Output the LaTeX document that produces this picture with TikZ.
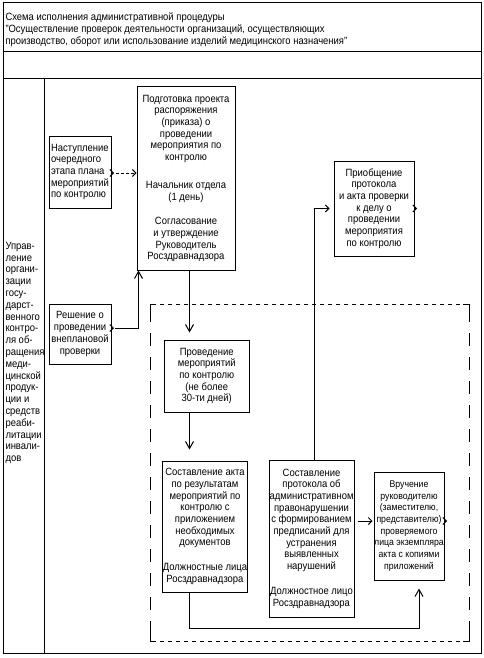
\documentclass[tikz,border=0pt]{standalone}
\usepackage{fontspec}
\setmainfont{Liberation Sans}[FakeStretch=0.9]
\usetikzlibrary{arrows.meta}
\begin{document}
\begin{tikzpicture}[x=1pt,y=-1pt,line width=1pt,
  font=\fontsize{10.5}{11.7}\selectfont,
  box/.style={draw, inner sep=0pt, align=center},
  harr/.style={-{Straight Barb[length=3.5pt,width=7pt]}},
  varr/.style={-{Straight Barb[length=7pt,width=8pt]}},
  hdash/.style={dash pattern=on 4pt off 4pt, dash phase=4pt},
  vdash/.style={dash pattern=on 13pt off 11pt, dash phase=13pt}]
\useasboundingbox (0,0) rectangle (484,658);
% frame
\draw (3,3) rectangle (481,653);
\draw (3,52) -- (481,52);
\draw (3,79) -- (481,79);
\draw (44,79) -- (44,653);
% header
\node[anchor=north west, align=left, inner sep=0pt] (title) at (5,12.5)
 {Схема исполнения административной процедуры\\"Осуществление проверок деятельности организаций, осуществляющих\\производство, оборот или использование изделий медицинского назначения"};
% left column
\node[anchor=north west, align=left, inner sep=0pt, font=\fontsize{10.5}{11.8}\selectfont] (dept) at (5,241.5)
 {Управ-\\ление\\органи-\\зации\\госу-\\дарст-\\венного\\контро-\\ля об-\\ращения\\меди-\\цинской\\продук-\\ции и\\средств\\реаби-\\литации\\инвали-\\дов};
% dashed frame
\draw (150,322) -- (150,304) -- (156,304);
\draw (463,304) -- (469,304) -- (469,322);
\draw (150,623) -- (150,641) -- (156,641);
\draw (463,641) -- (469,641) -- (469,623);
\draw[hdash] (156,304) -- (463,304);
\draw[hdash] (156,641) -- (463,641);
\draw[vdash] (150,322) -- (150,623);
\draw[vdash] (469,322) -- (469,623);
% boxes
\node[box, minimum width=62pt, minimum height=72pt, align=left] (A) at (80,172)
 {Наступление\\очередного\\этапа плана\\мероприятий\\по контролю};
\node[box, minimum width=98pt, minimum height=183pt] (B) at (186,178.5)
 {Подготовка проекта\\распоряжения\\(приказа) о\\проведении\\мероприятия по\\контролю\\[16pt]Начальник отдела\\(1 день)\\[13pt]Согласование\\и утверждение\\Руководитель\\Росздравнадзора};
\node[box, minimum width=62pt, minimum height=60pt] (C) at (80,334)
 {Решение о\\проведении\\внеплановой\\проверки};
\node[box, minimum width=80pt, minimum height=95pt] (D) at (374,208.5)
 {Приобщение\\протокола\\и акта проверки\\к делу о\\проведении\\мероприятия\\по контролю};
\node[box, minimum width=85pt, minimum height=72pt] (E) at (206.75,376)
 {Проведение\\мероприятий\\по контролю\\(не более\\30-ти дней)};
\node[box, minimum width=82pt, minimum height=131pt] (F) at (205,526.5)
 {Составление акта\\по результатам\\мероприятий по\\контролю с\\приложением\\необходимых\\документов\\[13pt]Должностные лица\\Росздравнадзора};
\node[box, minimum width=85pt, minimum height=157pt] (G) at (311.5,538.5)
 {Составление\\протокола об\\административном\\правонарушении\\с формированием\\предписаний для\\устранения\\выявленных\\нарушений\\[13pt]Должностное лицо\\Росздравнадзора};
\node[box, minimum width=70pt, minimum height=108pt, font=\fontsize{9.7}{11.7}\selectfont] (H) at (409,526)
 {Вручение\\руководителю\\(заместителю,\\представителю)\\проверяемого\\лица экземпляра\\акта с копиями\\приложений};
% connectors
\coordinate (a1) at ([yshift=-1pt]A.east);
\draw[harr] ([xshift=-1pt]a1) -- ([xshift=2.5pt]a1);
\draw[harr, dash pattern=on 3pt off 2pt] ([xshift=4pt]a1) -- (a1 -| B.west);
\coordinate (c1) at ([yshift=6pt]C.east);
\draw[harr] ([xshift=-1pt]c1) -- ([xshift=2.5pt]c1);
\coordinate (bx) at ([xshift=2pt]B.south west);
\draw[varr] ([xshift=3pt]c1) -| (bx);
\coordinate (vx) at ([xshift=3.5pt]B.south);
\draw[varr, shorten >=7pt] (vx) -- (vx |- E.north);
\draw[varr, shorten >=11pt] (vx |- E.south) -- (vx |- F.north);
\coordinate (turn) at (419,628);
\draw[varr, shorten >=8pt] (vx |- F.south) |- (turn) -- (turn |- H.south);
\coordinate (gx) at ([xshift=2.5pt]G.north);
\draw[harr, shorten >=4pt] (gx) |- (D.west);
\coordinate (g1) at ([yshift=17.5pt]G.east);
\draw[harr, shorten <=3pt, shorten >=1pt] (g1) -- (g1 -| H.west);
\draw[harr] ([xshift=-1pt]D.east) -- ([xshift=2.5pt]D.east);
\coordinate (h1) at ([yshift=5pt]H.east);
\draw[harr] ([xshift=-1pt]h1) -- ([xshift=2.5pt]h1);
\end{tikzpicture}
\end{document}
